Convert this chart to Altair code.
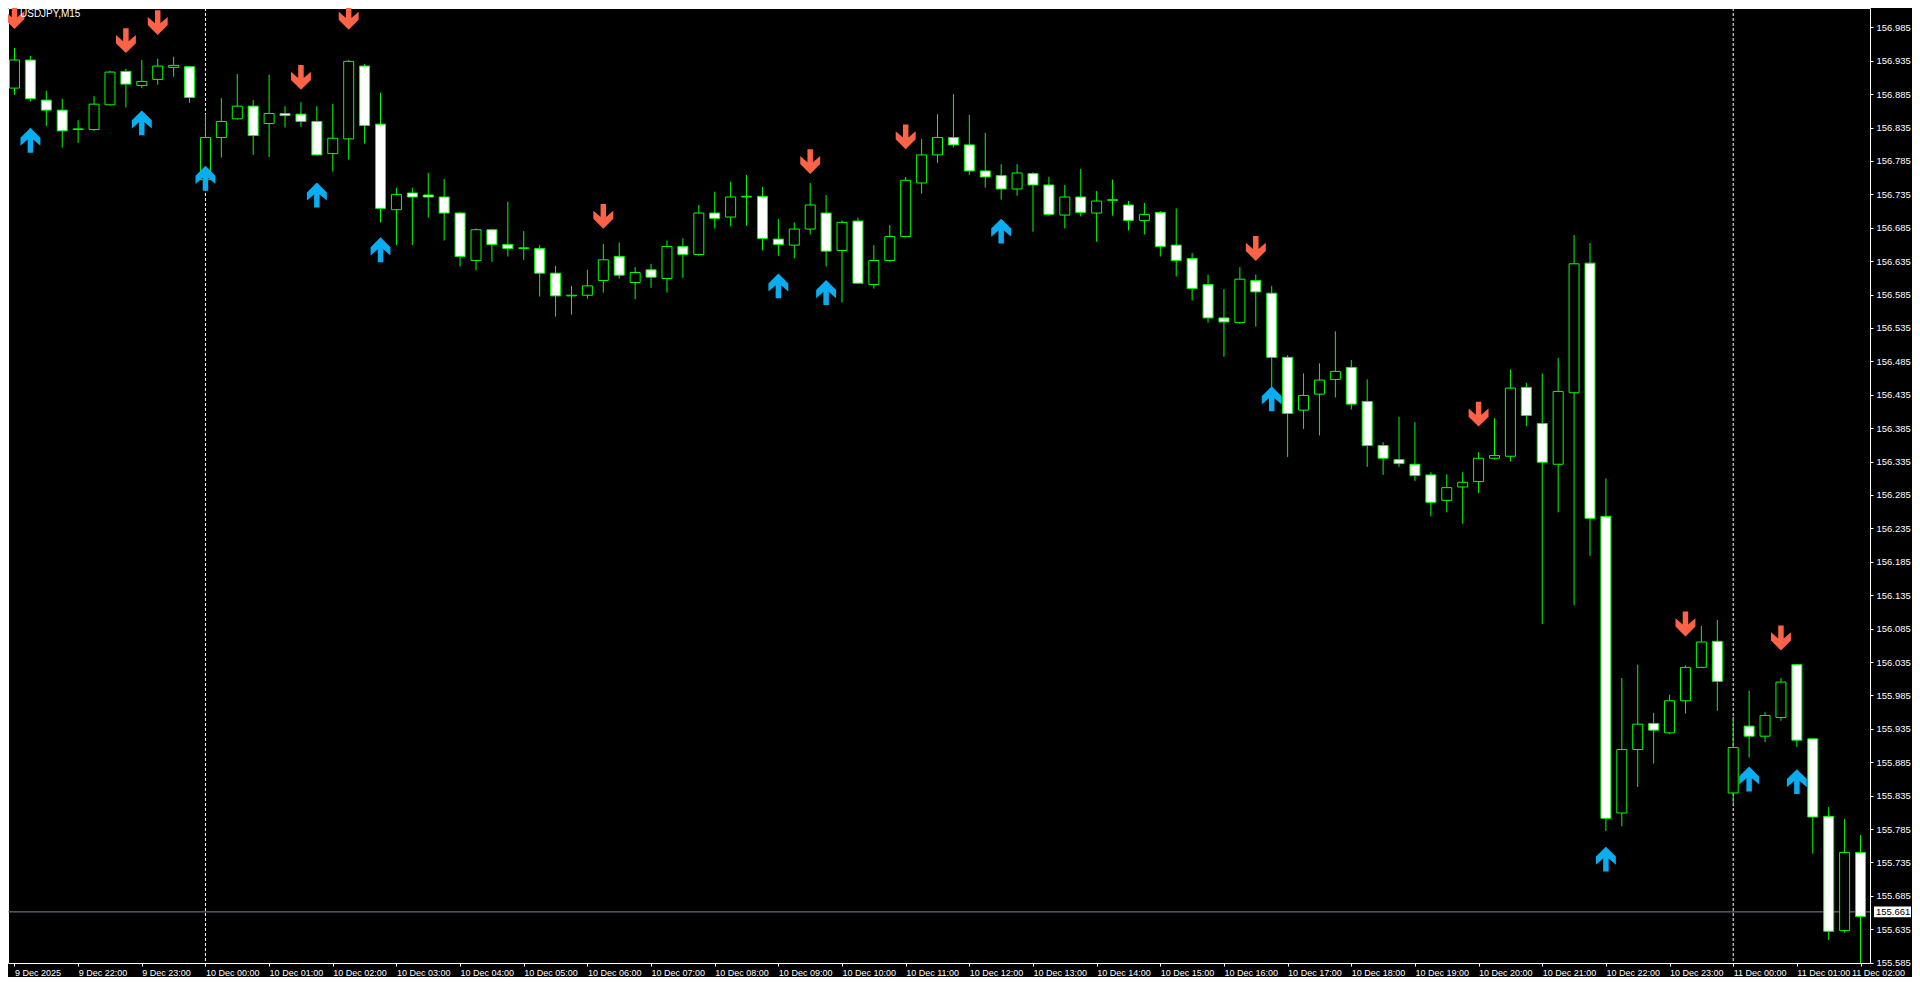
import json
import altair as alt
import pandas as pd

# ---------------- data (USDJPY, M15) ----------------
hour_labels = [
    "9 Dec 2025", "9 Dec 22:00", "9 Dec 23:00",
    "10 Dec 00:00", "10 Dec 01:00", "10 Dec 02:00", "10 Dec 03:00", "10 Dec 04:00",
    "10 Dec 05:00", "10 Dec 06:00", "10 Dec 07:00", "10 Dec 08:00", "10 Dec 09:00",
    "10 Dec 10:00", "10 Dec 11:00", "10 Dec 12:00", "10 Dec 13:00", "10 Dec 14:00",
    "10 Dec 15:00", "10 Dec 16:00", "10 Dec 17:00", "10 Dec 18:00", "10 Dec 19:00",
    "10 Dec 20:00", "10 Dec 21:00", "10 Dec 22:00", "10 Dec 23:00",
    "11 Dec 00:00", "11 Dec 01:00", "11 Dec 02:00",
]
hour_tick_bars = [0, 4, 8, 12, 16, 20, 24, 28, 32, 36, 40, 44, 48, 52, 56, 60, 64, 68,
                  72, 76, 80, 84, 88, 92, 96, 100, 104, 108, 112, 116]

price_ticks = [155.585, 155.635, 155.685, 155.735, 155.785, 155.835, 155.885, 155.935,
               155.985, 156.035, 156.085, 156.135, 156.185, 156.235, 156.285, 156.335,
               156.385, 156.435, 156.485, 156.535, 156.585, 156.635, 156.685, 156.735,
               156.785, 156.835, 156.885, 156.935, 156.985]

opens = [156.894, 156.936, 156.876, 156.861, 156.832, 156.832, 156.869, 156.919, 156.898, 156.907,
         156.925, 156.926, 156.757, 156.820, 156.848, 156.867, 156.841, 156.856, 156.855, 156.844,
         156.796, 156.818, 156.927, 156.840, 156.712, 156.737, 156.734, 156.731, 156.707, 156.636,
         156.682, 156.660, 156.654, 156.654, 156.617, 156.583, 156.584, 156.606, 156.642, 156.603,
         156.622, 156.609, 156.657, 156.645, 156.707, 156.701, 156.731, 156.732, 156.668, 156.659,
         156.683, 156.707, 156.651, 156.695, 156.600, 156.636, 156.672, 156.752, 156.794, 156.820,
         156.809, 156.770, 156.763, 156.743, 156.766, 156.749, 156.704, 156.731, 156.707, 156.726,
         156.719, 156.696, 156.708, 156.659, 156.639, 156.600, 156.550, 156.543, 156.606, 156.587,
         156.491, 156.412, 156.436, 156.458, 156.476, 156.425, 156.359, 156.338, 156.331, 156.315,
         156.277, 156.297, 156.305, 156.340, 156.343, 156.446, 156.392, 156.331, 156.438, 156.632,
         156.253, 155.809, 155.904, 155.943, 155.929, 155.977, 156.027, 156.066, 155.839, 155.939,
         155.924, 155.952, 156.031, 155.920, 155.804, 155.633, 155.750]
highs = [156.954, 156.942, 156.890, 156.878, 156.846, 156.882, 156.920, 156.923, 156.936, 156.938,
         156.941, 156.927, 156.855, 156.879, 156.915, 156.876, 156.914, 156.867, 156.873, 156.867,
         156.870, 156.936, 156.930, 156.887, 156.745, 156.745, 156.767, 156.758, 156.709, 156.684,
         156.683, 156.724, 156.680, 156.659, 156.628, 156.598, 156.622, 156.661, 156.663, 156.626,
         156.631, 156.666, 156.669, 156.719, 156.739, 156.754, 156.764, 156.746, 156.698, 156.693,
         156.752, 156.734, 156.696, 156.700, 156.659, 156.689, 156.761, 156.818, 156.855, 156.885,
         156.854, 156.827, 156.780, 156.780, 156.768, 156.761, 156.749, 156.773, 156.740, 156.757,
         156.725, 156.722, 156.710, 156.714, 156.647, 156.615, 156.593, 156.626, 156.615, 156.598,
         156.494, 156.467, 156.482, 156.530, 156.487, 156.458, 156.364, 156.402, 156.394, 156.319,
         156.316, 156.319, 156.349, 156.400, 156.473, 156.453, 156.467, 156.490, 156.674, 156.662,
         156.310, 156.011, 156.031, 155.959, 155.986, 156.030, 156.089, 156.098, 155.953, 155.992,
         155.960, 156.011, 156.032, 155.921, 155.818, 155.800, 155.776]
lows = [156.884, 156.874, 156.837, 156.805, 156.812, 156.830, 156.868, 156.865, 156.894, 156.899,
        156.911, 156.872, 156.754, 156.790, 156.847, 156.794, 156.791, 156.835, 156.836, 156.793,
        156.769, 156.787, 156.811, 156.693, 156.659, 156.659, 156.700, 156.666, 156.627, 156.621,
        156.634, 156.642, 156.637, 156.582, 156.552, 156.555, 156.579, 156.588, 156.609, 156.578,
        156.595, 156.588, 156.610, 156.643, 156.684, 156.687, 156.688, 156.651, 156.643, 156.639,
        156.675, 156.627, 156.573, 156.601, 156.594, 156.634, 156.671, 156.736, 156.782, 156.805,
        156.764, 156.745, 156.727, 156.733, 156.679, 156.703, 156.684, 156.702, 156.664, 156.703,
        156.681, 156.675, 156.642, 156.612, 156.576, 156.543, 156.492, 156.541, 156.537, 156.445,
        156.342, 156.384, 156.374, 156.431, 156.413, 156.327, 156.315, 156.327, 156.306, 156.253,
        156.259, 156.242, 156.288, 156.338, 156.335, 156.388, 156.092, 156.259, 156.120, 156.194,
        155.782, 155.789, 155.848, 155.883, 155.927, 155.958, 156.026, 155.962, 155.824, 155.892,
        155.915, 155.947, 155.908, 155.748, 155.619, 155.630, 155.577]
closes = [156.936, 156.878, 156.861, 156.830, 156.833, 156.870, 156.918, 156.900, 156.904, 156.927,
          156.928, 156.880, 156.820, 156.844, 156.867, 156.823, 156.856, 156.853, 156.844, 156.794,
          156.819, 156.934, 156.838, 156.714, 156.735, 156.731, 156.731, 156.707, 156.642, 156.682,
          156.660, 156.654, 156.655, 156.617, 156.583, 156.584, 156.598, 156.637, 156.614, 156.618,
          156.611, 156.657, 156.645, 156.707, 156.699, 156.731, 156.732, 156.669, 156.660, 156.683,
          156.719, 156.650, 156.693, 156.602, 156.636, 156.672, 156.756, 156.794, 156.820, 156.809,
          156.770, 156.761, 156.743, 156.767, 156.749, 156.705, 156.731, 156.708, 156.725, 156.727,
          156.696, 156.705, 156.657, 156.636, 156.594, 156.550, 156.544, 156.608, 156.589, 156.491,
          156.407, 156.434, 156.457, 156.470, 156.421, 156.359, 156.340, 156.332, 156.314, 156.274,
          156.296, 156.304, 156.340, 156.344, 156.445, 156.404, 156.334, 156.440, 156.631, 156.250,
          155.801, 155.904, 155.942, 155.933, 155.977, 156.027, 156.065, 156.006, 155.907, 155.924,
          155.955, 156.005, 155.918, 155.803, 155.632, 155.750, 155.654]

# signal arrows: bar number and price level of the arrow's centre
sell_bars = [0, 7, 9, 18, 21, 37, 50, 56, 78, 92, 105, 111]
sell_prices = [157.001, 156.965, 156.992, 156.910, 157.000, 156.702, 156.784, 156.821,
               156.654, 156.406, 156.092, 156.071]
buy_bars = [1, 8, 12, 19, 23, 48, 51, 62, 79, 100, 109, 112]
buy_prices = [156.816, 156.842, 156.759, 156.734, 156.652, 156.598, 156.588, 156.680,
              156.429, 155.740, 155.860, 155.856]

day_separator_bars = [12, 108]
current_price = [155.661]
symbol_title = ["USDJPY,M15"]

# ---------------- tables ----------------
candles = pd.DataFrame({
    "bar": list(range(len(opens))),
    "open": opens, "high": highs, "low": lows, "close": closes,
})
sells = pd.DataFrame({"bar": sell_bars, "price": sell_prices})
buys = pd.DataFrame({"bar": buy_bars, "price": buy_prices})
seps = pd.DataFrame({"bar": day_separator_bars})
cur = pd.DataFrame({"price": current_price})
ttl = pd.DataFrame({"t": symbol_title})

GREEN = "#00FF00"
FONT = "Liberation Sans"

PLOT_W = 1862
PLOT_H = 955
LAST_TICK = hour_tick_bars[-1]

label_expr = json.dumps(hour_labels) + "[round(datum.value / 4)]"

x_scale = alt.Scale(domain=[-0.09375, -0.09375 + PLOT_W / 16.0], nice=False, zero=False)
y_scale = alt.Scale(domain=[155.5845, 157.0139], nice=False, zero=False)

x_axis = alt.Axis(
    values=hour_tick_bars, labelExpr=label_expr, title=None, orient="bottom",
    labelAlign="left", labelBaseline="top", labelPadding=2, tickSize=3,
    labelOverlap=False, labelFlush=False, labelBound=False, grid=False, domain=False,
    labelFontSize=9,
    labelOffset={"condition": {"test": f"datum.value >= {LAST_TICK}", "value": -9},
                 "value": 0},
)
y_axis = alt.Axis(values=price_ticks, format=".3f", title=None, orient="right",
                  labelPadding=3, tickSize=3, labelOverlap=False, grid=False, domain=False,
                  labelBaseline="middle", labelFontSize=9.5)


def X(field):
    return alt.X(field, type="quantitative", scale=x_scale, axis=x_axis, title=None)


def Y(field):
    return alt.Y(field, type="quantitative", scale=y_scale, axis=y_axis, title=None)


# Arrow glyphs (MT4 style), unit box [-1, 1]
down_arrow = ("M -0.22 -1 L 0.22 -1 L 0.22 0.05 L 0.8 -0.45 L 0.8 0.2 L 0 1 "
              "L -0.8 0.2 L -0.8 -0.45 L -0.22 0.05 Z")
up_arrow = ("M -0.22 1 L 0.22 1 L 0.22 -0.05 L 0.8 0.45 L 0.8 -0.2 L 0 -1 "
            "L -0.8 -0.2 L -0.8 0.45 L -0.22 -0.05 Z")

separators = alt.Chart(seps).mark_rule(color="white", strokeWidth=1, strokeDash=[3, 2]).encode(
    x=X("bar"))

price_line = alt.Chart(cur).mark_rule(color="#778899", strokeWidth=1).encode(y=Y("price"))

wicks = alt.Chart(candles).mark_rule(color=GREEN, strokeWidth=1, clip=True).encode(
    x=X("bar"), y=Y("low"), y2="high")

bodies = alt.Chart(candles).mark_bar(size=10, stroke=GREEN, strokeWidth=1, clip=True).encode(
    x=X("bar"), y=Y("open"), y2="close",
    fill=alt.condition("datum.open > datum.close", alt.value("white"), alt.value("black")))

sell_marks = alt.Chart(sells).mark_point(shape=down_arrow, filled=True, size=620,
                                         color="#FF6347", opacity=1, clip=True).encode(
    x=X("bar"), y=Y("price"))

buy_marks = alt.Chart(buys).mark_point(shape=up_arrow, filled=True, size=620,
                                       color="#0AAEF0", opacity=1, clip=True).encode(
    x=X("bar"), y=Y("price"))

title_text = alt.Chart(ttl).mark_text(align="left", baseline="middle", color="white",
                                      font=FONT, fontSize=10).encode(
    text="t:N", x=alt.value(12), y=alt.value(6))

price_box = alt.Chart(cur).transform_calculate(
    top="datum.price + 0.0082", bot="datum.price - 0.0082"
).mark_rect(color="white").encode(
    x=alt.value(PLOT_W + 4), x2=alt.value(PLOT_W + 41), y=Y("top"), y2="bot")

price_box_text = alt.Chart(cur).mark_text(align="left", baseline="middle", color="black",
                                          font=FONT, fontSize=9.5).encode(
    x=alt.value(PLOT_W + 6), y=Y("price"), text=alt.Text("price:Q", format=".3f"))

chart = alt.layer(
    separators, price_line, wicks, bodies, sell_marks, buy_marks,
    title_text, price_box, price_box_text,
).properties(
    width=PLOT_W, height=PLOT_H, background="black",
    padding={"left": 0, "top": 0, "right": 1904 - PLOT_W, "bottom": 14},
    autosize=alt.AutoSizeParams(type="none"),
).configure_view(
    stroke="white", strokeWidth=1, fill="black"
).configure_axis(
    labelColor="white", tickColor="white", labelFont=FONT, labelFontSize=9.5, grid=False,
)

chart.save("out.html", embed_options={"renderer": "svg", "actions": False})
